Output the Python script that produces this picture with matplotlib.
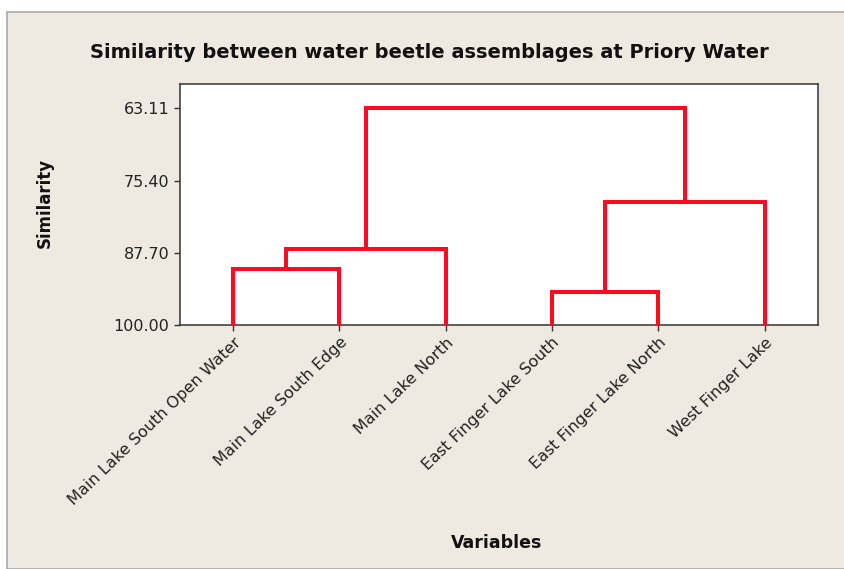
import matplotlib
matplotlib.use("Agg")
import matplotlib.pyplot as plt
from matplotlib.patches import Rectangle

# ---- data ----
labels = ["Main Lake South Open Water", "Main Lake South Edge", "Main Lake North",
          "East Finger Lake South", "East Finger Lake North", "West Finger Lake"]
# merges: (cluster a, cluster b, similarity) ; new clusters numbered from len(labels)
merge_a = [3, 0, 7, 6, 8]
merge_b = [4, 1, 2, 5, 9]
merge_sim = [94.4, 90.5, 87.1, 79.0, 63.11]
yticks = [63.11, 75.40, 87.70, 100.00]

title = "Similarity between water beetle assemblages at Priory Water"
xlabel = "Variables"
ylabel = "Similarity"

BG = "#EFEAE1"
RED = "#FF0A1E"

W, H = 845, 569
fig = plt.figure(figsize=(W / 100, H / 100), dpi=100, facecolor="white")
fig.patches.append(Rectangle((7 / W, 0), 1 - 7 / W, 1 - 12 / H, transform=fig.transFigure,
                             facecolor=BG, edgecolor="#A8A8A8", linewidth=1.2, zorder=-10))

L, R, T, B = 180, 818, 84, 325
ax = fig.add_axes([L / W, 1 - B / H, (R - L) / W, (B - T) / H])
ax.set_facecolor("white")

n = len(labels)
xpos = {i: i + 1 for i in range(n)}
ypos = {i: 100.0 for i in range(n)}
for k, (a, b, s) in enumerate(zip(merge_a, merge_b, merge_sim)):
    xa, xb = xpos[a], xpos[b]
    ya, yb = ypos[a], ypos[b]
    ax.plot([xa, xa, xb, xb], [ya, s, s, yb], color=RED, lw=2.9,
            solid_joinstyle="miter", solid_capstyle="butt", clip_on=False, zorder=3)
    new = n + k
    xpos[new] = (xa + xb) / 2
    ypos[new] = s

ax.set_xlim(0.5, n + 0.5)
ax.set_ylim(100.0, 58.95)
ax.set_yticks(yticks)
ax.set_yticklabels([f"{v:.2f}" for v in yticks], fontsize=11.5, color="#222222")
ax.set_xticks(range(1, n + 1))
ax.set_xticklabels(labels, rotation=44, ha="right", rotation_mode="anchor",
                   fontsize=11.5, color="#222222")
ax.tick_params(axis="both", direction="out", length=4, width=1, color="#333333")
ax.tick_params(axis="x", pad=3)
for sp in ax.spines.values():
    sp.set_color("#333333")
    sp.set_linewidth(1.1)

fig.text(429 / W, 1 - 52 / H, title, ha="center", va="center", fontsize=14,
         fontweight="bold", color="#111111")
fig.text(497 / W, 1 - 543 / H, xlabel, ha="center", va="center", fontsize=12.5,
         fontweight="bold", color="#111111")
fig.text(45 / W, 1 - 203 / H, ylabel, ha="center", va="center", rotation=90,
         fontsize=12, fontweight="bold", color="#111111")

fig.savefig("out.png", dpi=100, facecolor=fig.get_facecolor())
